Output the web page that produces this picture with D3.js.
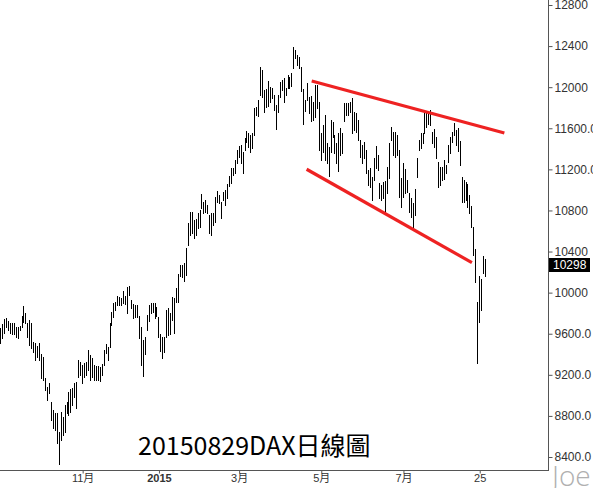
<!DOCTYPE html>
<html>
<head>
<meta charset="utf-8">
<script src="https://cdn.jsdelivr.net/npm/d3@7"></script>
<style>
  html, body { margin: 0; padding: 0; background: #fff; }
  svg { display: block; }
</style>
</head>
<body>
<div id="chart"></div>
<script>
// daily highs / lows, 2014-09-04 .. 2015-08-28
const highs = [
  9656, 9695, 9744, 9753, 9724, 9705, 9705, 9705, 9666, 9666,
  9675, 9773, 9870, 9802, 9705, 9734, 9705, 9520, 9510, 9481,
  9510, 9403, 9374, 9169, 9082, 9121, 8936, 8858, 8829, 8829,
  8644, 8839, 8790, 8906, 8936, 9033, 9062, 9072, 9121, 9131,
  9344, 9325, 9296, 9315, 9325, 9442, 9393, 9364, 9296, 9290,
  9286, 9277, 9306, 9442, 9500, 9471, 9708, 9815, 9897, 9912,
  9967, 9960, 9948, 10019, 9967, 10055, 10065, 9928, 9890, 9880,
  9880, 9773, 9669, 9539, 9572, 9782, 9880, 9896, 9900, 9896,
  9860, 9766, 9597, 9572, 9568, 9831, 9848, 9802, 9960, 9945,
  10043, 10182, 10269, 10265, 10286, 10432, 10681, 10782, 10788, 10707,
  10717, 10773, 10805, 10960, 10885, 10902, 10853, 10756, 10778, 10773,
  10934, 10993, 10951, 10885, 10983, 11000, 11058, 11136, 11211, 11211,
  11292, 11389, 11428, 11438, 11373, 11503, 11577, 11557, 11535, 11557,
  11795, 11810, 11875, 12200, 12168, 11973, 11980, 12061, 12005, 11990,
  11924, 11827, 11924, 12054, 12070, 12087, 11990, 12119, 12102, 12141,
  12390, 12362, 12314, 12297, 12194, 11980, 11880, 12044, 11908, 11915,
  11859, 12022, 12022, 11859, 11551, 11632, 11730, 11454, 11421, 11681,
  11664, 11535, 11454, 11557, 11600, 11557, 11849, 11849, 11849, 11859,
  11892, 11762, 11746, 11681, 11486, 11438, 11470, 11389, 11194, 11211,
  11129, 11308, 11428, 11340, 11071, 11048, 11080, 11090, 11226, 11454,
  11616, 11567, 11567, 11535, 11389, 11113, 11259, 11201, 11097, 10967,
  10919, 10870, 11006, 11308, 11486, 11551, 11551, 11746, 11752, 11739,
  11780, 11567, 11590, 11519, 11275, 11226, 11226, 11292, 11243, 11438,
  11519, 11567, 11649, 11584, 11600, 11480, 11130, 11100, 11080, 11060,
  10950, 10840, 10640, 10420, 9912, 10162, 10130, 10357, 10330
];
const lows = [
  9510, 9558, 9607, 9666, 9636, 9607, 9600, 9597, 9568, 9558,
  9636, 9666, 9715, 9705, 9568, 9490, 9461, 9422, 9344, 9374,
  9344, 9169, 9150, 9052, 8955, 9023, 8760, 8683, 8663, 8537,
  8330, 8566, 8614, 8644, 8829, 8809, 8839, 8906, 8985, 8877,
  9179, 9198, 9121, 9179, 9198, 9247, 9150, 9179, 9150, 9150,
  9145, 9135, 9198, 9296, 9413, 9344, 9474, 9685, 9766, 9831,
  9880, 9875, 9880, 9897, 9890, 9805, 9977, 9851, 9753, 9760,
  9763, 9558, 9296, 9189, 9402, 9636, 9727, 9805, 9810, 9750,
  9772, 9571, 9435, 9360, 9425, 9572, 9588, 9597, 9734, 9604,
  9912, 9912, 10162, 10150, 10117, 10172, 10464, 10561, 10584, 10529,
  10561, 10627, 10642, 10821, 10773, 10789, 10773, 10584, 10561, 10659,
  10691, 10880, 10870, 10724, 10902, 10853, 10918, 11038, 11065, 11146,
  11162, 11259, 11324, 11266, 11162, 11389, 11470, 11421, 11373, 11405,
  11535, 11730, 11720, 11924, 11907, 11762, 11810, 11817, 11859, 11892,
  11778, 11590, 11762, 11907, 11973, 11859, 11924, 11990, 11993, 12012,
  12184, 12281, 12216, 12184, 11966, 11645, 11770, 11875, 11746, 11674,
  11681, 11713, 11795, 11389, 11292, 11372, 11292, 11259, 11136, 11372,
  11518, 11357, 11259, 11187, 11340, 11357, 11674, 11730, 11730, 11762,
  11557, 11584, 11567, 11486, 11318, 11259, 11308, 11162, 11048, 11032,
  10902, 11097, 11211, 11194, 10919, 10902, 10919, 10778, 10967, 11113,
  11486, 11340, 11324, 11340, 10934, 10837, 10934, 10967, 10983, 10788,
  10740, 10642, 10756, 11129, 11389, 11405, 11454, 11551, 11616, 11642,
  11630, 11460, 11421, 11308, 11026, 11048, 11097, 11103, 11162, 11275,
  11357, 11470, 11535, 11438, 11380, 11240, 10880, 10880, 10900, 10830,
  10780, 10640, 10370, 10100, 9312, 9718, 9831, 10189, 10160
];
const lastClose = 10298;

const firstDay = "2014-09-04";
const lastDay = "2015-08-28";
const holidays = ["2014-12-24", "2014-12-25", "2014-12-26", "2014-12-31",
  "2015-01-01", "2015-04-03", "2015-04-06", "2015-05-01"];

const tickDates = ["2014-11-03", "2015-01-02", "2015-03-02", "2015-05-04", "2015-07-01", "2015-08-25"];
const tickNames = ["11月", "2015", "3月", "5月", "7月", "25"];

const yTicks = [12800, 12400, 12000, 11600, 11200, 10800, 10400, 10000, 9600, 9200, 8800, 8400];
const yTickLabels = ["12800", "12400", "12000", "11600.0", "11200.0", "10800", "10400", "10000",
  "9600.0", "9200.0", "8800.0", "8400.0"];

// trend lines as [bar index, price]
const trendUpper = [[159.1, 12060], [257.6, 11554]];
const trendLower = [[156.5, 11201], [241.0, 10292]];

const title = "20150829DAX日線圖";
const watermark = "Joe";

const width = 593, height = 488;
const plotRight = 548, plotBottom = 470;

const parse = d3.utcParse("%Y-%m-%d");
const fmt = d3.utcFormat("%Y-%m-%d");
const dates = d3.utcDay
  .range(parse(firstDay), d3.utcDay.offset(parse(lastDay), 1))
  .filter((d) => d.getUTCDay() % 6 !== 0 && !holidays.includes(fmt(d)));
const dateIndex = new Map(dates.map((d, i) => [fmt(d), i]));
const bars = highs.map((h, i) => ({ i, date: dates[i], high: h, low: lows[i] }));

const x = d3.scaleLinear().domain([0, dates.length - 1]).range([0.5, 485.6]);
const y = d3.scaleLinear().domain([8400, 12800]).range([457, 5]);

const svg = d3.select("#chart").append("svg")
  .attr("width", width)
  .attr("height", height)
  .attr("viewBox", [0, 0, width, height]);

svg.append("rect").attr("width", width).attr("height", height).attr("fill", "#fff");

svg.append("clipPath").attr("id", "plot-clip")
  .append("rect").attr("width", plotRight).attr("height", plotBottom);

const gPlot = svg.append("g").attr("clip-path", "url(#plot-clip)");

gPlot.append("g")
  .attr("stroke", "#000")
  .attr("stroke-width", 1)
  .attr("shape-rendering", "crispEdges")
  .selectAll("line")
  .data(bars)
  .join("line")
  .attr("x1", (d) => Math.floor(x(d.i)) + 0.5)
  .attr("x2", (d) => Math.floor(x(d.i)) + 0.5)
  .attr("y1", (d) => Math.round(y(d.high)))
  .attr("y2", (d) => Math.round(y(d.low)) + 1);

gPlot.append("g")
  .attr("stroke", "#ee2222")
  .attr("stroke-width", 3.2)
  .attr("stroke-linecap", "butt")
  .selectAll("line")
  .data([trendUpper, trendLower])
  .join("line")
  .attr("x1", (d) => x(d[0][0]))
  .attr("y1", (d) => y(d[0][1]))
  .attr("x2", (d) => x(d[1][0]))
  .attr("y2", (d) => y(d[1][1]));

// frame
svg.append("path")
  .attr("d", `M0,${plotBottom + 0.5}H${plotRight + 0.5}V0`)
  .attr("fill", "none")
  .attr("stroke", "#555")
  .attr("shape-rendering", "crispEdges");

// right price axis
const gY = svg.append("g")
  .attr("transform", `translate(${plotRight + 0.5},0)`)
  .call(d3.axisRight(y)
    .tickValues(yTicks)
    .tickSize(4)
    .tickPadding(2)
    .tickFormat((d, i) => yTickLabels[i]));
gY.select(".domain").remove();
gY.selectAll("line").attr("stroke", "#555");
gY.selectAll("text")
  .attr("fill", "#333")
  .style("font", "12px 'Liberation Sans', Arial, sans-serif");

// last price marker
const gLast = svg.append("g").attr("transform", `translate(${plotRight + 1},${Math.round(y(lastClose)) + 3})`);
gLast.append("rect").attr("x", 0).attr("y", -7).attr("width", 41).attr("height", 14).attr("fill", "#000");
gLast.append("text")
  .attr("x", 4)
  .attr("dy", "0.35em")
  .attr("fill", "#fff")
  .style("font", "12px 'Liberation Sans', Arial, sans-serif")
  .text(d3.format("d")(lastClose));

// bottom date axis
const gX = svg.append("g")
  .attr("transform", `translate(0,${plotBottom + 0.5})`)
  .call(d3.axisBottom(x)
    .tickValues(tickDates.map((d) => dateIndex.get(d)))
    .tickSize(3)
    .tickPadding(1)
    .tickFormat((d, i) => tickNames[i]));
gX.select(".domain").remove();
gX.selectAll("line").attr("stroke", "#555");
gX.selectAll("text")
  .attr("fill", "#333")
  .style("font", "11px 'Liberation Sans', Arial, 'Noto Sans CJK TC', sans-serif")
  .style("font-weight", (d, i) => (tickNames[i] === "2015" ? "bold" : "normal"));

svg.append("text")
  .attr("x", 138)
  .attr("y", 455)
  .attr("fill", "#000")
  .style("font", "25px 'Noto Sans CJK TC', sans-serif")
  .text(title);

svg.append("text")
  .attr("x", 552)
  .attr("y", 486)
  .attr("fill", "#b0b0b0")
  .style("font", "300 28px 'Open Sans', sans-serif")
  .text(watermark);
</script>
</body>
</html>
